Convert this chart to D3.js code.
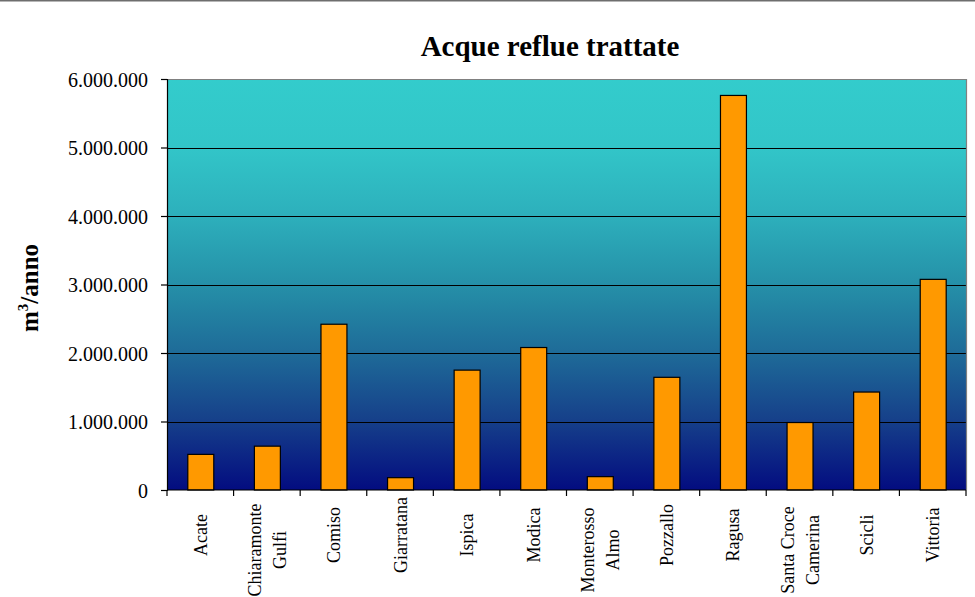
<!DOCTYPE html>
<html><head><meta charset="utf-8">
<script src="https://cdn.jsdelivr.net/npm/d3@7"></script>
<style>
html,body{margin:0;padding:0;background:#fff;}
svg{display:block;}
</style></head>
<body>
<svg id="chart" width="975" height="597"></svg>
<script>
const categories = [["Acate"],["Chiaramonte","Gulfi"],["Comiso"],["Giarratana"],["Ispica"],["Modica"],["Monterosso","Almo"],["Pozzallo"],["Ragusa"],["Santa Croce","Camerina"],["Scicli"],["Vittoria"]];
const values = [520000, 640000, 2420000, 180000, 1750000, 2080000, 195000, 1645000, 5760000, 985000, 1430000, 3075000];
const yTicks = [0, 1000000, 2000000, 3000000, 4000000, 5000000, 6000000];
const title = "Acque reflue trattate";

const svg = d3.select("#chart");
const W = 975, H = 597;
const m = {left: 167, right: 9, top: 79, bottom: 107};
const pw = W - m.left - m.right, ph = H - m.top - m.bottom;

// frame line at top
svg.append("line").attr("x1",0).attr("x2",W).attr("y1",0.5).attr("y2",0.5)
  .attr("stroke","#6e6e6e").attr("stroke-width",2);

const defs = svg.append("defs");
const grad = defs.append("linearGradient").attr("id","bg").attr("x1",0).attr("x2",0).attr("y1",0).attr("y2",1);
[[0,"#33cccc"],[0.17,"#32c5c8"],[0.33,"#2db0bc"],[0.5,"#2590a8"],[0.67,"#1e6a98"],[0.83,"#16408a"],[1,"#030c80"]]
  .forEach(([o,c])=>grad.append("stop").attr("offset",o).attr("stop-color",c));

const names = categories.map(c=>c.join(" "));
const x = d3.scaleBand().domain(names).range([m.left, m.left+pw]).paddingInner(0).paddingOuter(0);
const y = d3.scaleLinear().domain([0, 6000000]).range([m.top+ph, m.top]);

// plot background
svg.append("rect").attr("x",m.left).attr("y",m.top).attr("width",pw).attr("height",ph)
  .attr("fill","url(#bg)");

// gridlines
svg.append("g").selectAll("line").data(yTicks.slice(1,-1)).join("line")
  .attr("x1",m.left).attr("x2",m.left+pw)
  .attr("y1",d=>Math.round(y(d))+0.5).attr("y2",d=>Math.round(y(d))+0.5)
  .attr("stroke","#000").attr("stroke-width",1.2);

// plot border top/right (grey)
svg.append("path")
  .attr("d",`M${m.left},${m.top+0.5}H${m.left+pw+0.5}V${m.top+ph}`)
  .attr("fill","none").attr("stroke","#808080").attr("stroke-width",1.2);

// bars
const bw = x.bandwidth()*0.39;
svg.append("g").selectAll("rect").data(values).join("rect")
  .attr("x",(d,i)=>x(names[i]) + x.bandwidth()/2 - bw/2 + 0.5)
  .attr("y",d=>y(d))
  .attr("width",bw)
  .attr("height",d=>y(0)-y(d))
  .attr("fill","#ff9900").attr("stroke","#000").attr("stroke-width",1.2);

// y axis
const yAxis = d3.axisLeft(y).tickValues(yTicks).tickSize(6).tickPadding(13)
  .tickFormat(d=>d3.format(",")(d).replace(/,/g,"."));
const gy = svg.append("g").attr("transform",`translate(${m.left},0)`).call(yAxis);
gy.select(".domain").attr("stroke","#000").attr("stroke-width",1.2);
gy.selectAll(".tick line").attr("stroke","#000").attr("stroke-width",1.2);
gy.selectAll(".tick text").attr("font-family","'Liberation Serif','Times New Roman',serif")
  .attr("font-size","20px").attr("fill","#000").attr("dy","0.35em");

// x axis baseline and ticks at band boundaries
svg.append("line").attr("x1",m.left).attr("x2",m.left+pw).attr("y1",y(0)).attr("y2",y(0))
  .attr("stroke","#000").attr("stroke-width",1.2);
const bounds = names.map(n=>x(n)).concat([m.left+pw]);
svg.append("g").selectAll("line").data(bounds).join("line")
  .attr("x1",d=>d).attr("x2",d=>d).attr("y1",y(0)).attr("y2",y(0)+6)
  .attr("stroke","#000").attr("stroke-width",1.2);

// x labels (rotated)
const lab = svg.append("g").selectAll("g").data(categories).join("g")
  .attr("transform",(d,i)=>`translate(${x(names[i])+x.bandwidth()/2},${d.length>1?550:535}) rotate(-90)`);
lab.each(function(d){
  const g = d3.select(this);
  const n = d.length;
  d.forEach((t,k)=>{
    g.append("text").text(t)
      .attr("x",0).attr("y",6.5 + (k-(n-1)/2)*25)
      .attr("text-anchor","middle")
      .attr("font-family","'Liberation Serif','Times New Roman',serif")
      .attr("font-size","18px").attr("fill","#000");
  });
});

// title
svg.append("text").text(title).attr("x",550).attr("y",56).attr("text-anchor","middle")
  .attr("font-family","'Liberation Serif','Times New Roman',serif").attr("font-weight","bold")
  .attr("font-size","29px").attr("fill","#000");

// y axis title
const yt = svg.append("text").attr("transform","translate(38,288) rotate(-90)")
  .attr("text-anchor","middle")
  .attr("font-family","'Liberation Serif','Times New Roman',serif").attr("font-weight","bold")
  .attr("font-size","25px").attr("fill","#000");
yt.append("tspan").text("m");
yt.append("tspan").text("3").attr("font-size","15px").attr("dy","-10");
yt.append("tspan").text("/anno").attr("dy","10");
</script>
</body></html>
